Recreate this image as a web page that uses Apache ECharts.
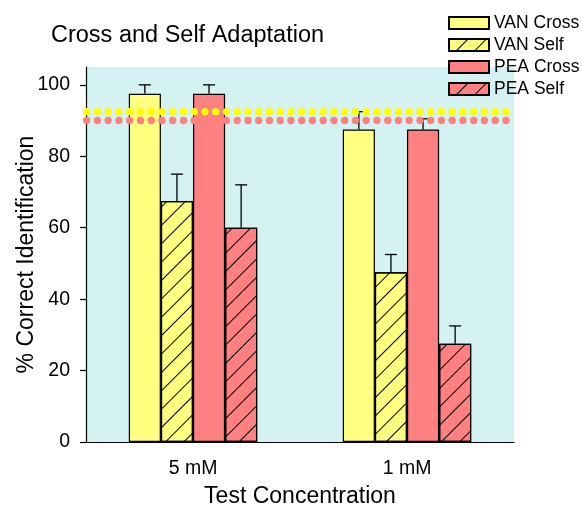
<!DOCTYPE html>
<html><head><meta charset="utf-8">
<script src="https://cdn.jsdelivr.net/npm/echarts@6/dist/echarts.min.js"></script>
<style>html,body{margin:0;padding:0;background:#fff}#c{width:582px;height:508px}</style>
</head><body><div id="c"></div>
<script>
const categories = ['5 mM', '1 mM'];
const seriesNames = ['VAN Cross', 'VAN Self', 'PEA Cross', 'PEA Self'];
const vanCross = [97.5, 87.5];
const vanSelf = [67.5, 47.5];
const peaCross = [97.5, 87.5];
const peaSelf = [60, 27.5];
const vanCrossErr = [2.5, 5];
const vanSelfErr = [7.5, 5];
const peaCrossErr = [2.5, 3];
const peaSelfErr = [12, 5];
const yTicks = [0, 20, 40, 60, 80, 100];
const refLevels = [92.5, 90];
const refColors = ['#FFFF00', '#FF8080'];

const values = [vanCross, vanSelf, peaCross, peaSelf];
const errors = [vanCrossErr, vanSelfErr, peaCrossErr, peaSelfErr];
const fills = ['#FFFF80', '#FFFF80', '#FF8080', '#FF8080'];
const hatched = [false, true, false, true];
const FONT = '"Liberation Sans", Arial, sans-serif';

const hatch = {
  symbol: 'rect', symbolSize: 1, color: '#000',
  dashArrayX: [1, 0], dashArrayY: [1, 12], rotation: -Math.PI / 4
};

const errData = [];
values.forEach((arr, k) => arr.forEach((v, i) => errData.push([i, v, errors[k][i], k])));

const series = values.map((arr, k) => ({
  name: seriesNames[k], type: 'bar', data: arr,
  barGap: '0%', barCategoryGap: '40%', z: 2,
  itemStyle: Object.assign({ color: fills[k], borderColor: '#000', borderWidth: 1.2 },
    hatched[k] ? { decal: hatch } : {})
}));

series.push({
  name: 'err', type: 'custom', z: 3, data: errData,
  renderItem: function (params, api) {
    const cat = api.value(0), val = api.value(1), err = api.value(2), k = api.value(3);
    const band = api.size([1, 0])[0];
    const bw = band * 0.6 / 4;
    const base = api.coord([cat, val]);
    const top = api.coord([cat, val + err]);
    const x = base[0] + (k - 1.5) * bw;
    const st = { stroke: '#000', lineWidth: 1.3 };
    return { type: 'group', children: [
      { type: 'line', shape: { x1: x, y1: base[1], x2: x, y2: top[1] }, style: st },
      { type: 'line', shape: { x1: x - 6, y1: top[1], x2: x + 6, y2: top[1] }, style: st }
    ]};
  }
});

// dotted reference lines: a row of dots across the plot width at each level
series.push({
  name: 'ref', type: 'custom', z: 10, silent: true,
  data: refLevels.map((v, k) => [0, v, k]),
  encode: { x: 0, y: 1 },
  clip: false,
  renderItem: function (params, api) {
    const cs = params.coordSys;
    const y = api.coord([0, api.value(1)])[1];
    const k = api.value(2);
    const step = 10.75;
    const children = [];
    for (let x = cs.x + 0.7; x <= cs.x + cs.width - 3; x += step) {
      children.push({ type: 'circle', shape: { cx: x, cy: y, r: 3.7 }, style: { fill: refColors[k] } });
    }
    return { type: 'group', children: children };
  }
});

const chart = echarts.init(document.getElementById('c'), null, { renderer: 'canvas' });
chart.setOption({
  animation: false,
  aria: { enabled: false },
  textStyle: { fontFamily: FONT, color: '#000' },
  title: {
    text: 'Cross and Self Adaptation', left: 46, top: 19,
    textStyle: { fontFamily: FONT, fontSize: 23.5, fontWeight: 'normal', color: '#000' }
  },
  legend: {
    data: seriesNames, orient: 'vertical', left: 443, top: 9,
    itemWidth: 40, itemHeight: 12, itemGap: 4, icon: 'rect',
    textStyle: { fontFamily: FONT, fontSize: 17.5, color: '#000', lineHeight: 18 },
    selectedMode: false
  },
  grid: { left: 86, right: 68, top: 67, bottom: 66, show: true, backgroundColor: '#D4F2F2', borderWidth: 0,
          outerBoundsMode: 'none', containLabel: false },
  xAxis: {
    type: 'category', data: categories,
    name: 'Test Concentration', nameLocation: 'middle', nameGap: 43, nameMoveOverlap: false,
    nameTextStyle: { fontFamily: FONT, fontSize: 23, color: '#000' },
    axisLine: { lineStyle: { color: '#000', width: 1.2 } },
    axisTick: { alignWithLabel: true, length: 6, lineStyle: { color: '#000', width: 1.2 } },
    axisLabel: { fontFamily: FONT, fontSize: 19.5, color: '#000', margin: 17 }
  },
  yAxis: {
    type: 'value', min: 0, max: 105, interval: 20,
    name: '% Correct Identification', nameLocation: 'middle', nameGap: 48, nameMoveOverlap: false,
    nameTextStyle: { fontFamily: FONT, fontSize: 23, color: '#000' },
    axisLine: { show: true, lineStyle: { color: '#000', width: 1.2 } },
    axisTick: { show: true, length: 6, customValues: yTicks, lineStyle: { color: '#000', width: 1.2 } },
    axisLabel: { fontFamily: FONT, fontSize: 19.5, color: '#000', margin: 16, customValues: yTicks },
    splitLine: { show: false }
  },
  series: series
});
</script></body></html>
